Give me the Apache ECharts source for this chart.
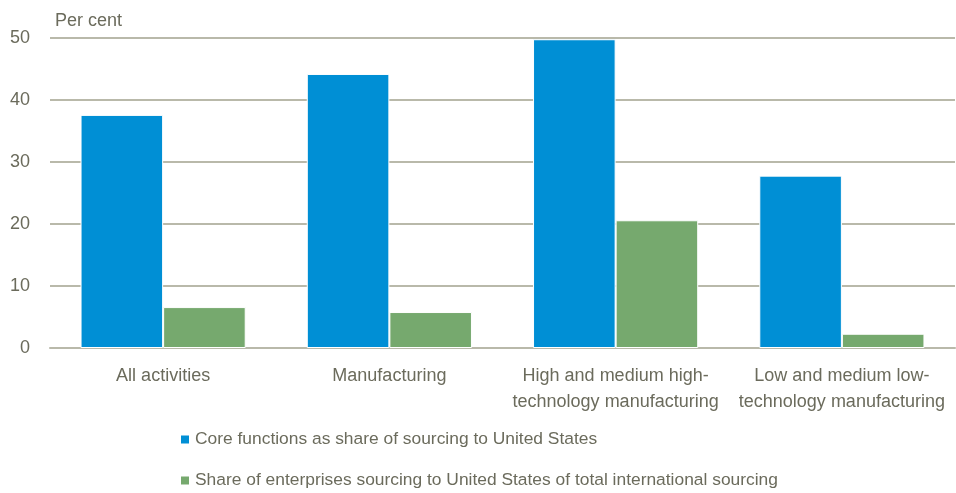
<!DOCTYPE html>
<html>
<head>
<meta charset="utf-8">
<script src="https://cdn.jsdelivr.net/npm/echarts@6/dist/echarts.min.js"></script>
<style>
  html, body { margin: 0; padding: 0; background: #fff; }
  #chart { width: 956px; height: 493px; }
</style>
</head>
<body>
<div id="chart"></div>
<script>
// Categories and series values (per cent)
const categories = [
  'All activities',
  'Manufacturing',
  'High and medium high-\ntechnology manufacturing',
  'Low and medium low-\ntechnology manufacturing'
];
const coreFunctions = [37.6, 44.2, 49.8, 27.8];
const shareEnterprises = [6.6, 5.8, 20.6, 2.3];
const seriesNames = [
  'Core functions as share of sourcing to United States',
  'Share of enterprises sourcing to United States of total international sourcing'
];
const yTicks = { min: 0, max: 50, interval: 10 };

const textColor = '#6b6b5c';
const font = 'Liberation Sans, Arial, sans-serif';

// One legend entry per row, stacked under the axis labels
const legendBase = {
  left: 174,
  itemWidth: 10, itemHeight: 10,
  icon: 'rect',
  textStyle: { color: textColor, fontSize: 17.4, fontFamily: font }
};

const chart = echarts.init(document.getElementById('chart'));
chart.setOption({
  animation: false,
  textStyle: { fontFamily: font },
  grid: { left: 50, right: 1, top: 38, bottom: 145 },
  graphic: [{
    type: 'text', left: 55, top: 12,
    style: { text: 'Per cent', fill: textColor, font: '18px ' + font }
  }],
  legend: [
    Object.assign({ top: 426, data: [seriesNames[0]] }, legendBase),
    Object.assign({ top: 467, data: [seriesNames[1]] }, legendBase)
  ],
  xAxis: {
    type: 'category',
    data: categories,
    axisLine: { lineStyle: { color: '#b9b9aa', width: 2 } },
    axisTick: { show: false },
    axisLabel: { color: textColor, fontSize: 18, lineHeight: 26, margin: 15, interval: 0 }
  },
  yAxis: {
    type: 'value',
    min: yTicks.min, max: yTicks.max, interval: yTicks.interval,
    axisLine: { show: false },
    axisTick: { show: false },
    axisLabel: { color: textColor, fontSize: 18, margin: 20 },
    splitLine: { lineStyle: { color: '#b9b9aa', width: 2 } }
  },
  series: [
    {
      name: seriesNames[0], type: 'bar', data: coreFunctions,
      barGap: '0%', barCategoryGap: '27%',
      itemStyle: { color: '#008fd5', borderColor: '#ffffff', borderWidth: 1 }
    },
    {
      name: seriesNames[1], type: 'bar', data: shareEnterprises,
      itemStyle: { color: '#76a96e', borderColor: '#ffffff', borderWidth: 1 }
    }
  ]
});
</script>
</body>
</html>
